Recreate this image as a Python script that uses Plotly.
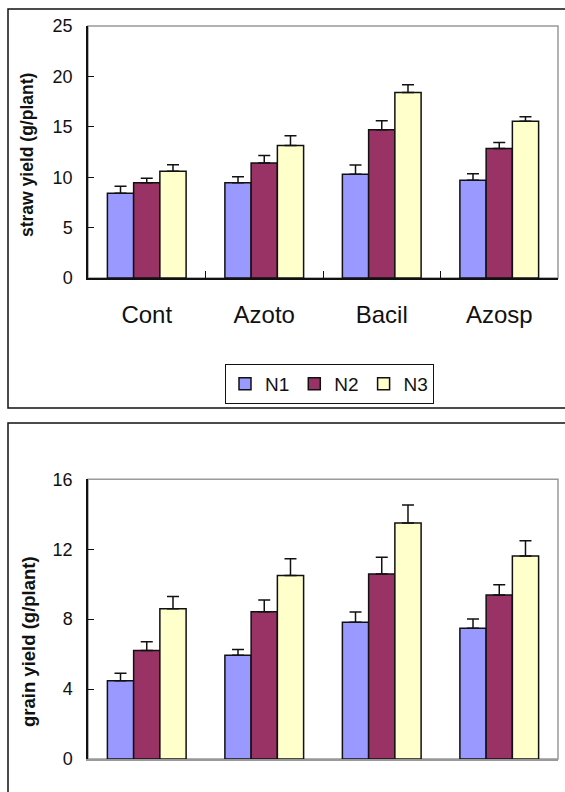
import plotly.graph_objects as go

categories = ["Cont", "Azoto", "Bacil", "Azosp"]
series_names = ["N1", "N2", "N3"]
colors = ["#9999FF", "#993366", "#FFFFCC"]

straw_N1 = [8.4, 9.45, 10.3, 9.7]
straw_N2 = [9.45, 11.4, 14.7, 12.85]
straw_N3 = [10.6, 13.15, 18.4, 15.55]
straw_err_N1 = [0.7, 0.6, 0.9, 0.63]
straw_err_N2 = [0.45, 0.75, 0.9, 0.6]
straw_err_N3 = [0.63, 0.95, 0.76, 0.45]

grain_N1 = [4.48, 5.93, 7.82, 7.48]
grain_N2 = [6.2, 8.43, 10.58, 9.38]
grain_N3 = [8.6, 10.49, 13.5, 11.61]
grain_err_N1 = [0.42, 0.34, 0.59, 0.53]
grain_err_N2 = [0.51, 0.67, 0.96, 0.59]
grain_err_N3 = [0.69, 0.97, 1.03, 0.88]

straw_ticks = [0, 5, 10, 15, 20, 25]
grain_ticks = [0, 4, 8, 12, 16]

W, H = 565, 792
FONT = "Liberation Sans, Arial, sans-serif"

def px_x(p):
    return p / W

def px_y(p):
    return 1 - p / H

fig = go.Figure()

straw = [straw_N1, straw_N2, straw_N3]
straw_err = [straw_err_N1, straw_err_N2, straw_err_N3]
grain = [grain_N1, grain_N2, grain_N3]
grain_err = [grain_err_N1, grain_err_N2, grain_err_N3]

for i, name in enumerate(series_names):
    fig.add_trace(go.Bar(
        x=categories, y=straw[i], name=name, legendgroup=name,
        marker=dict(color=colors[i], line=dict(color="#111111", width=1.5)),
        error_y=dict(type="data", symmetric=False, array=straw_err[i],
                     arrayminus=[0] * len(categories),
                     color="#111111", thickness=1.5, width=6),
        xaxis="x", yaxis="y", showlegend=True,
    ))
for i, name in enumerate(series_names):
    fig.add_trace(go.Bar(
        x=categories, y=grain[i], name=name, legendgroup=name,
        marker=dict(color=colors[i], line=dict(color="#111111", width=1.5)),
        error_y=dict(type="data", symmetric=False, array=grain_err[i],
                     arrayminus=[0] * len(categories),
                     color="#111111", thickness=1.5, width=6),
        xaxis="x2", yaxis="y2", showlegend=False,
    ))

top_dom = [px_y(278), px_y(26)]
bot_dom = [px_y(759), px_y(479.3)]
x_dom = [px_x(88), px_x(558)]

axis_common = dict(showgrid=False, zeroline=False, linewidth=1.5,
                   tickcolor="#111111", automargin=False)

fig.update_layout(
    template="none",
    width=W, height=H,
    margin=dict(l=0, r=0, t=0, b=0, pad=0),
    paper_bgcolor="white", plot_bgcolor="white",
    barmode="group", bargap=0.33, bargroupgap=0,
    font=dict(family=FONT, color="#111111"),
    xaxis=dict(domain=x_dom, anchor="y", showline=True, linecolor="#111111",
               ticks="inside", tickson="boundaries", ticklen=7, tickwidth=1.2,
               tickfont=dict(size=24), ticklabelstandoff=14, **axis_common),
    yaxis=dict(domain=top_dom, anchor="x", range=[0, 25], showline=True,
               linecolor="#111111", ticks="inside", ticklen=6, tickwidth=1,
               tickvals=straw_ticks, tickfont=dict(size=18),
               ticklabelstandoff=10, **axis_common),
    xaxis2=dict(domain=x_dom, anchor="y2", showline=True, linecolor="#999999",
                ticks="", showticklabels=False, **axis_common),
    yaxis2=dict(domain=bot_dom, anchor="x2", range=[0, 16], showline=True,
                linecolor="#111111", ticks="inside", ticklen=6, tickwidth=1,
                tickvals=grain_ticks, tickfont=dict(size=18),
                ticklabelstandoff=10, **axis_common),
    legend=dict(orientation="h", x=px_x(225), y=px_y(364), xanchor="left",
                yanchor="top", bordercolor="#111111", borderwidth=1,
                font=dict(size=19), itemwidth=30, bgcolor="white",
                tracegroupgap=0),
    shapes=[
        dict(type="rect", xref="paper", yref="paper", x0=px_x(8), x1=px_x(567),
             y0=px_y(408), y1=px_y(9), line=dict(color="#111111", width=1.5)),
        dict(type="rect", xref="paper", yref="paper", x0=px_x(8), x1=px_x(567),
             y0=px_y(800), y1=px_y(423), line=dict(color="#111111", width=1.5)),
        dict(type="rect", xref="paper", yref="paper", x0=x_dom[0], x1=x_dom[1],
             y0=top_dom[0], y1=top_dom[1], line=dict(color="#999999", width=1.5),
             layer="below"),
        dict(type="rect", xref="paper", yref="paper", x0=x_dom[0], x1=x_dom[1],
             y0=bot_dom[0], y1=bot_dom[1], line=dict(color="#999999", width=1.5),
             layer="below"),
    ],
    annotations=[
        dict(text="<b>straw yield (g/plant)</b>", xref="paper", yref="paper",
             x=px_x(27), y=px_y(155), textangle=-90, showarrow=False,
             font=dict(size=17.5), xanchor="center", yanchor="middle"),
        dict(text="<b>grain yield (g/plant)</b>", xref="paper", yref="paper",
             x=px_x(28), y=px_y(642), textangle=-90, showarrow=False,
             font=dict(size=18.5), xanchor="center", yanchor="middle"),
    ],
)

fig.write_html(
    "out.html",
    config={"displayModeBar": False, "responsive": False},
    post_script="document.body.style.margin='0';document.body.style.overflow='hidden';",
)
